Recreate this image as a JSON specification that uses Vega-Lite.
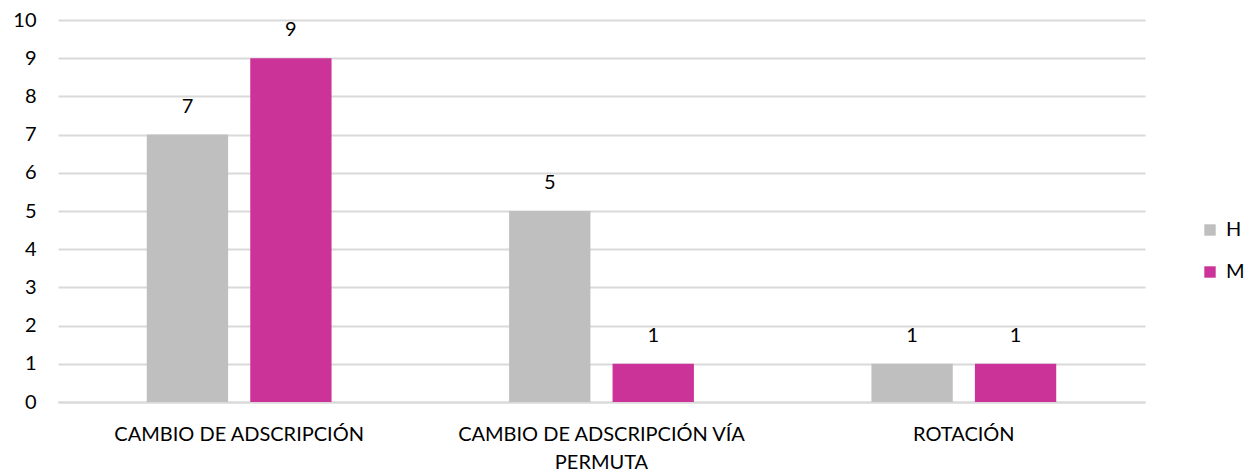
{
  "$schema": "https://vega.github.io/schema/vega-lite/v6.json",
  "width": 1087,
  "height": 382,
  "autosize": {"type": "none"},
  "padding": {"left": 58, "top": 20, "right": 106, "bottom": 69},
  "background": "white",
  "config": {
    "font": "Lato",
    "view": {"stroke": null}
  },
  "data": {
    "values": [
      {"categoria": "CAMBIO DE ADSCRIPCIÓN", "sexo": "H", "valor": 7},
      {"categoria": "CAMBIO DE ADSCRIPCIÓN", "sexo": "M", "valor": 9},
      {"categoria": "CAMBIO DE ADSCRIPCIÓN VÍA PERMUTA", "sexo": "H", "valor": 5},
      {"categoria": "CAMBIO DE ADSCRIPCIÓN VÍA PERMUTA", "sexo": "M", "valor": 1},
      {"categoria": "ROTACIÓN", "sexo": "H", "valor": 1},
      {"categoria": "ROTACIÓN", "sexo": "M", "valor": 1}
    ]
  },
  "encoding": {
    "x": {
      "field": "categoria",
      "type": "nominal",
      "sort": null,
      "scale": {"paddingInner": 0.49, "paddingOuter": 0.245},
      "axis": {
        "title": null,
        "labelAngle": 0,
        "labelFontSize": 20,
        "labelColor": "#000000",
        "labelPadding": 22,
        "labelLineHeight": 28,
        "labelLimit": 0,
        "labelOverlap": false,
        "ticks": false,
        "domainColor": "#D9D9D9",
        "domainWidth": 2,
        "labelExpr": "datum.label == 'CAMBIO DE ADSCRIPCIÓN VÍA PERMUTA' ? ['CAMBIO DE ADSCRIPCIÓN VÍA', 'PERMUTA'] : datum.label"
      }
    },
    "xOffset": {
      "field": "sexo",
      "type": "nominal",
      "scale": {"paddingInner": 0.214, "paddingOuter": 0}
    },
    "y": {
      "field": "valor",
      "type": "quantitative",
      "scale": {"domain": [0, 10]},
      "axis": {
        "title": null,
        "values": [0,1,2,3,4,5,6,7,8,9,10],
        "labelOverlap": false,
        "domain": false,
        "ticks": false,
        "labelFontSize": 20,
        "labelColor": "#000000",
        "labelPadding": 22,
        "gridColor": "#D9D9D9",
        "gridWidth": 2
      }
    }
  },
  "layer": [
    {
      "mark": {"type": "bar"},
      "encoding": {
        "color": {
          "field": "sexo",
          "type": "nominal",
          "scale": {"domain": ["H", "M"], "range": ["#BFBFBF", "#CC3399"]},
          "legend": {
            "title": null,
            "orient": "none",
            "legendX": 1142,
            "legendY": 200,
            "symbolType": "square",
            "symbolSize": 130,
            "symbolStrokeWidth": 0,
            "labelFontSize": 20,
            "labelColor": "#000000",
            "rowPadding": 22,
            "labelOffset": 6
          }
        }
      }
    },
    {
      "mark": {"type": "text", "baseline": "bottom", "dy": -18, "fontSize": 20, "color": "#000000"},
      "encoding": {
        "text": {"field": "valor", "type": "quantitative"}
      }
    }
  ]
}
